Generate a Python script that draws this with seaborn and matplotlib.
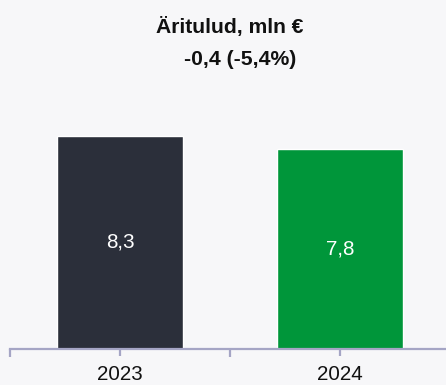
import matplotlib
matplotlib.use("Agg")
import matplotlib.pyplot as plt
import seaborn as sns
import pandas as pd

# Data
years = ["2023", "2024"]
revenue = [8.3, 7.8]
bar_colors = ["#2b2f3a", "#00963a"]
title = "Äritulud, mln €"
change_text = "-0,4 (-5,4%)"

bg = "#f7f7f9"
axis_color = "#a5a5c5"

sns.set_theme(style="white")
plt.rcParams["font.family"] = ["Liberation Sans", "DejaVu Sans"]

W, H = 446, 385
fig = plt.figure(figsize=(W / 100, H / 100), dpi=100, facecolor=bg)

# axes placed in pixel terms: baseline at y=349 from top, x from 10
ax_h = 250
ax = fig.add_axes([10 / W, (H - 349) / H, 440 / W, ax_h / H])
ax.set_facecolor(bg)

df = pd.DataFrame({"year": years, "value": revenue})
sns.barplot(data=df, x="year", y="value", hue="year", palette=bar_colors,
            legend=False, width=0.573, saturation=1, ax=ax)

ax.set_xlim(-0.5, 1.5)
ax.set_ylim(0, ax_h / 25.7)

for container in ax.containers:
    ax.bar_label(container, labels=[f"{v:.1f}".replace(".", ",") for v in container.datavalues],
                 label_type="center", color="white", fontsize=14.9)

for side in ["top", "right", "left"]:
    ax.spines[side].set_visible(False)
ax.spines["bottom"].set_color(axis_color)
ax.spines["bottom"].set_linewidth(1.6)

ax.set_yticks([])
ax.set_xlabel("")
ax.set_ylabel("")
ax.set_xticks([0, 1])
ax.set_xticklabels(years, fontsize=14.8, color="#111111")
ax.set_xticks([-0.5, 0.5, 1.5], minor=True)
ax.tick_params(axis="x", which="both", bottom=True, length=5, width=1.6,
               color=axis_color, pad=6.5)
ax.tick_params(axis="x", which="minor", length=6)

fig.text(230 / W, (H - 33) / H, title, ha="center", va="baseline",
         fontsize=15.2, fontweight="bold", color="#111111")
fig.text(240 / W, (H - 65) / H, change_text, ha="center", va="baseline",
         fontsize=15.2, fontweight="bold", color="#111111")

fig.savefig("out.png", dpi=100, facecolor=bg)
